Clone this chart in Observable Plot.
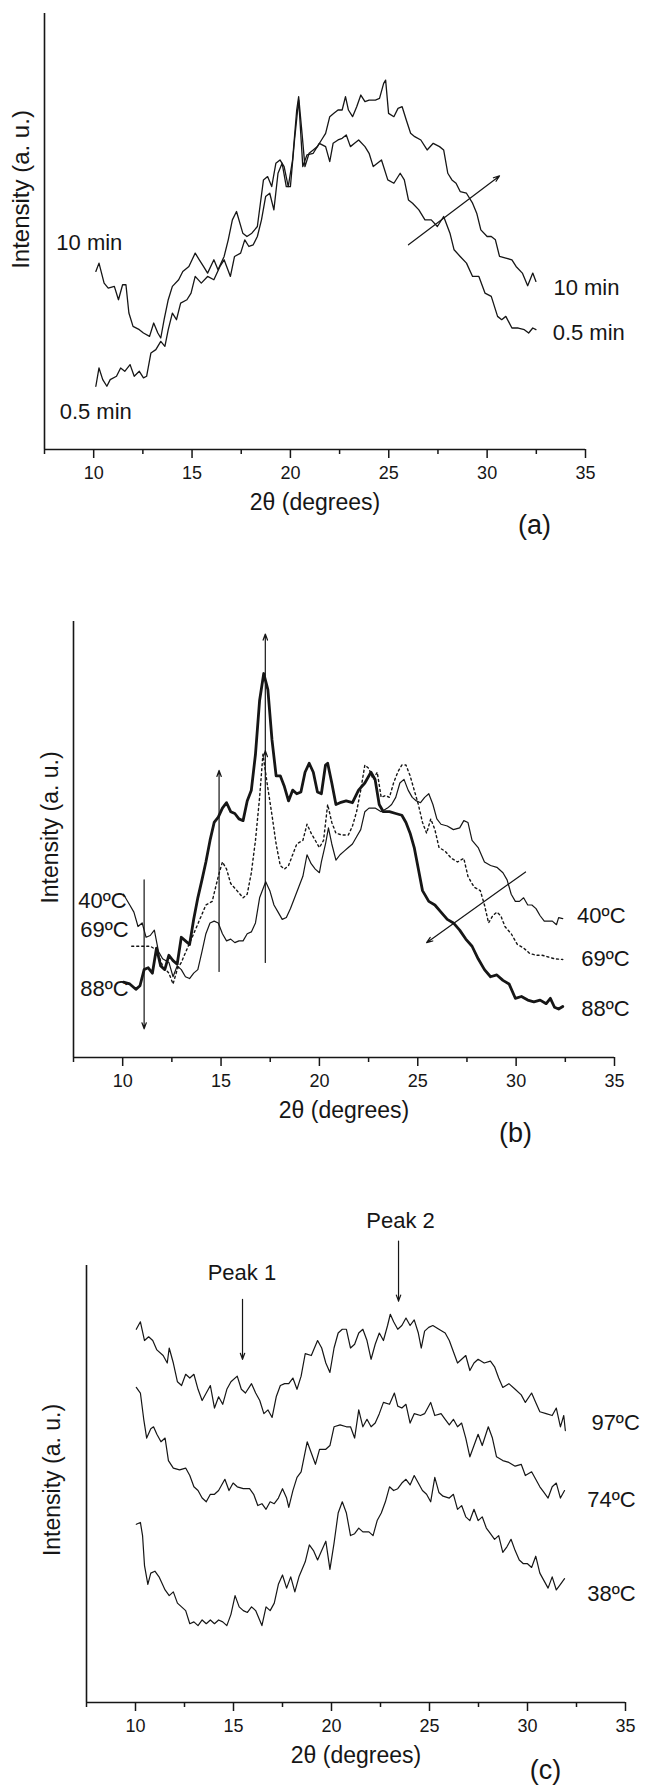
<!DOCTYPE html>
<html><head><meta charset="utf-8">
<script src="https://cdn.jsdelivr.net/npm/d3@7"></script>
<script src="https://cdn.jsdelivr.net/npm/@observablehq/plot@0.6"></script>
<style>
body{margin:0;background:#fff;}
#chart{width:647px;}
#chart svg{display:block;overflow:visible;}
</style>
</head><body><div id="chart"></div>
<script>
// ---------- axis ticks ----------
const xMajorTicks = [10, 15, 20, 25, 30, 35];
const xMinorTicks = [7.5, 12.5, 17.5, 22.5, 27.5, 32.5];
const xTitle = "2θ (degrees)";
const yTitle = "Intensity (a. u.)";

// ---------- panel (a) ----------
const a10_x = [10.11,10.27,10.53,10.74,11.05,11.26,11.47,11.64,11.79,12.00,12.32,12.53,12.84,13.05,13.26,13.41,13.58,13.79,14.00,14.32,14.53,14.84,15.16,15.37,15.58,15.79,16.11,16.32,16.63,16.84,17.05,17.26,17.58,17.79,18.04,18.32,18.63,18.84,19.05,19.26,19.47,19.68,19.89,20.11,20.32,20.42,20.59,20.74,20.95,21.16,21.37,21.58,21.79,22.00,22.21,22.42,22.63,22.80,22.95,23.16,23.37,23.58,23.79,24.00,24.32,24.53,24.74,24.84,24.99,25.26,25.47,25.68,25.89,26.11,26.32,26.63,26.95,27.26,27.58,27.79,28.00,28.21,28.42,28.63,28.95,29.26,29.47,29.68,30.00,30.21,30.42,30.63,30.95,31.26,31.47,31.79,32.06,32.32,32.48];
const a10_y = [53.5,56,50,48.5,49,45,49.5,49.5,41,37,36,35,34,38,35,33.5,39,45,49,51,53.5,55,59,57,55,53,57,54,58,63,69,71.5,65,64,65,67,81,82,79,86,87,85,79,87,102,106,95,85,89,90,91,93,95,100,101,102,102,106,102,100,103,106.5,104.5,105,105,105.5,110,111,101,100,102.5,103,99,95,94,93,90,92,91,90,83,81,80,77.5,77,74,71,66,64,64,63,58,57.5,57,55,53,49.2,53,50.5];
const a05_x = [10.11,10.27,10.46,10.67,10.84,11.16,11.37,11.58,11.85,12.06,12.32,12.53,12.69,12.91,13.16,13.41,13.62,13.79,14.00,14.21,14.42,14.74,14.95,15.16,15.47,15.79,16.11,16.42,16.63,16.95,17.16,17.47,17.68,17.89,18.11,18.32,18.53,18.74,18.95,19.16,19.37,19.58,19.79,20.00,20.21,20.42,20.63,20.84,21.16,21.47,21.79,22.00,22.17,22.42,22.63,22.84,23.05,23.26,23.47,23.79,24.00,24.21,24.42,24.63,24.95,25.26,25.58,25.79,26.00,26.21,26.53,26.84,27.16,27.47,27.79,28.11,28.32,28.63,28.95,29.26,29.58,29.89,30.21,30.53,30.74,30.95,31.26,31.58,31.89,32.11,32.32,32.48];
const a05_y = [19,24.5,21,19,21,22,24.5,23.5,25.5,22,23.5,21.5,22,29,30,32.5,31,36,41,39,44,45,47,52,50,52,51,55,57,52,58,59,63,61,61.5,64,69,76,77,72,83,86,79,79,93,105,85,88.5,89,92,91,86.5,92,93,93.5,94.5,91,92,93,91,89,85,86,87,81,80,83,81,75,74,72,69,69,67,70,65,60,58,56,52,52,47,46,40,39,40,36.5,36.5,36,35,36.5,36];
const aLabels = [
  {text: "10 min", x: 8.1, y: 62.2},
  {text: "0.5 min", x: 8.27, y: 11.2},
  {text: "10 min", x: 33.37, y: 48.5},
  {text: "0.5 min", x: 33.33, y: 35}
];
const aArrows = [{x1: 26.0, y1: 61.5, x2: 30.63, y2: 82.2}];

// ---------- panel (b) ----------
const b88_x = [10.04,10.36,10.67,10.88,11.09,11.30,11.51,11.72,11.93,12.14,12.35,12.56,12.77,12.98,13.19,13.40,13.61,13.82,14.03,14.23,14.44,14.65,14.86,15.07,15.28,15.49,15.70,15.91,16.12,16.33,16.54,16.75,16.96,17.17,17.38,17.59,17.80,18.01,18.22,18.43,18.64,18.85,19.06,19.27,19.48,19.69,19.90,20.10,20.31,20.42,20.63,20.84,21.05,21.36,21.68,21.99,22.31,22.62,22.83,23.04,23.25,23.56,23.88,24.19,24.40,24.61,24.82,25.03,25.24,25.56,25.87,26.18,26.50,26.81,27.13,27.44,27.76,28.07,28.39,28.70,29.02,29.33,29.64,29.96,30.27,30.59,30.90,31.22,31.53,31.74,31.95,32.16,32.37];
const b88_y = [21,20.5,19,20,24.5,25,23.5,30.5,25.5,24.5,28.5,27,26,33.5,32.5,31.5,38.5,44.5,49.5,54.5,60.5,65.5,67,69.5,71,68.5,68,66.5,66,71.5,74.5,84.5,99.5,107,102.5,88.5,78.5,78.5,75.5,71.5,74.5,73.5,74,79.5,82,79.5,74,73.5,81.5,82,76.5,70.5,71,71.5,71,74.5,76.5,79.5,77.5,70.5,68.5,68.5,68,67.5,65.5,62.5,58.5,52.5,46.5,43.5,42.5,40.5,38.5,37.5,35.5,33,31,27.5,24.5,22.5,23,21.5,20.5,16.5,17,16,15.5,16,15,16.5,14,13.5,14.2];
const b40_x = [10.04,10.36,10.57,10.78,10.99,11.19,11.40,11.61,11.82,12.03,12.35,12.56,12.77,12.98,13.19,13.40,13.61,13.82,14.03,14.23,14.44,14.65,14.86,15.07,15.28,15.49,15.70,15.91,16.12,16.33,16.54,16.75,16.96,17.27,17.48,17.69,17.90,18.11,18.32,18.53,18.74,18.95,19.16,19.37,19.58,19.79,20.00,20.10,20.31,20.46,20.63,20.84,21.05,21.26,21.47,21.68,21.89,22.10,22.31,22.52,22.83,23.14,23.46,23.67,23.88,24.09,24.30,24.51,24.72,24.93,25.14,25.35,25.56,25.77,25.97,26.18,26.50,26.81,27.13,27.34,27.55,27.76,28.07,28.39,28.70,29.02,29.33,29.54,29.75,29.96,30.17,30.38,30.59,30.80,31.01,31.22,31.43,31.64,31.84,32.05,32.16,32.37];
const b40_y = [45.5,42.5,40.5,36.5,37.5,33.5,34,35.5,29.5,27.5,26.5,22.5,25.5,24.5,22.5,22,23.5,24.5,29.5,34.5,37.5,38,37.5,34.5,32.5,33,32,32.5,32.5,34.5,35,37.5,44.5,49,46.5,42.5,40.5,38.5,39,41.5,44.5,47.5,50.5,56.5,54,52.5,51.5,54.5,59.5,64,59.5,55,56.5,57.5,58.5,59.5,61.5,63.5,68.5,69.5,69.5,68.5,69.5,70.5,72.5,76.5,77.5,74.5,72.5,71.5,71,72.5,73.5,70.5,66.5,65,64.5,63.5,64,66,65.5,60.5,58.5,54.5,53.5,53,51.5,49.5,45.5,43.5,43.5,44.5,42.5,42.5,41.5,39.5,38,38,38,37,39,38.7];
const b69_x = [10.46,10.78,11.09,11.40,11.72,12.03,12.35,12.56,12.77,12.98,13.29,13.61,13.92,14.23,14.55,14.86,15.07,15.28,15.49,15.81,16.12,16.33,16.54,16.75,16.96,17.13,17.34,17.59,17.80,18.01,18.22,18.43,18.64,18.85,19.16,19.37,19.58,19.79,20.00,20.21,20.42,20.63,20.84,21.15,21.47,21.68,21.89,22.10,22.31,22.52,22.73,22.94,23.14,23.35,23.56,23.77,23.98,24.19,24.40,24.61,24.82,25.03,25.24,25.45,25.66,25.87,26.08,26.39,26.71,27.02,27.34,27.55,27.86,28.18,28.39,28.60,28.81,29.02,29.22,29.43,29.75,30.06,30.38,30.69,31.01,31.32,31.64,31.95,32.37];
const b69_y = [31,31,31,31,30,25.5,23.5,20.5,24.5,26.5,30.5,34.5,38.5,42.5,43.5,50.5,54.5,52.5,48.5,46.5,44.5,45.5,51.5,60.5,72.5,84.5,76.5,67.5,59.5,53.5,52.5,53.5,56.5,59.5,60.5,65,62.5,60.5,58.5,60.5,70.5,65.5,62.5,62,62,64.5,68.5,74.5,81.5,80.5,77.5,79.5,72.5,73,72.5,76.5,79.5,81.5,81.5,78.5,74.5,70.5,65.5,62.5,66.5,63.5,58.5,57.5,55.5,54.5,55.5,50.5,47.5,46.5,42.5,37.5,39.5,40.5,39.5,36.5,34.5,31.5,30.5,29,28.5,28.5,28,27.5,27.3];
const bLabels = [
  {text: "40ºC", x: 7.74, y: 43.5},
  {text: "69ºC", x: 7.84, y: 35.5},
  {text: "88ºC", x: 7.84, y: 19},
  {text: "40ºC", x: 33.1, y: 39.5},
  {text: "69ºC", x: 33.31, y: 27.5},
  {text: "88ºC", x: 33.31, y: 13.5}
];
const bArrows = [
  {x1: 11.09, y1: 49.5, x2: 11.09, y2: 8},
  {x1: 14.9, y1: 24, x2: 14.9, y2: 80},
  {x1: 17.25, y1: 26.5, x2: 17.25, y2: 85.5},
  {x1: 17.25, y1: 85.5, x2: 17.25, y2: 118},
  {x1: 30.48, y1: 51.7, x2: 25.45, y2: 32}
];

// ---------- panel (c) ----------
const c97_x = [10.04,10.25,10.46,10.67,10.88,11.09,11.41,11.62,11.72,11.93,12.14,12.35,12.56,12.77,12.98,13.19,13.40,13.61,13.82,14.03,14.24,14.45,14.66,14.87,15.19,15.40,15.61,15.92,16.13,16.34,16.55,16.76,16.97,17.18,17.39,17.61,17.82,18.03,18.24,18.45,18.66,18.97,19.29,19.50,19.71,19.92,20.13,20.34,20.55,20.76,20.97,21.18,21.39,21.60,21.81,22.02,22.23,22.44,22.65,22.86,23.00,23.17,23.38,23.59,23.80,24.01,24.22,24.43,24.58,24.75,24.96,25.17,25.48,25.80,26.01,26.22,26.43,26.64,26.85,27.06,27.27,27.48,27.79,28.11,28.32,28.53,28.74,29.05,29.37,29.68,29.89,30.21,30.42,30.63,30.95,31.26,31.47,31.68,31.85,31.93];
const c97_y = [99.5,101.5,96.5,97.5,96.5,94,92.5,90.5,94.5,90.5,85.5,84.5,87.5,86.5,87.5,83.5,80.5,82.5,84.5,78.5,81.5,79.5,83.5,85.5,87,83.5,82.5,85,82.5,80.5,77,78,76,81.5,84.5,85,85,86.5,83.5,87,93,92.5,96.5,94.5,90.5,88,94.5,98.5,99.5,99.5,94.5,95.5,98.5,99.5,96.5,91.5,95.5,98.5,96.5,100.5,103.5,101.5,99.5,100.5,102.5,100.5,102,98.5,94.5,99,100,100.5,99.5,98.5,96.5,93.5,90.5,91.5,92.5,88.5,90.5,91.5,90.5,91,89.5,86.5,84,85,83.5,82,80,82.5,80,77.5,77,76.5,78.5,73.5,76.5,72.5];
const c74_x = [10.04,10.25,10.42,10.57,10.78,10.92,11.09,11.30,11.51,11.68,11.93,12.25,12.56,12.77,12.98,13.19,13.40,13.61,13.82,14.03,14.24,14.56,14.77,14.98,15.19,15.50,15.82,16.03,16.24,16.45,16.66,16.87,17.08,17.29,17.50,17.71,17.82,18.03,18.24,18.45,18.76,18.97,19.18,19.39,19.71,19.92,20.13,20.44,20.76,20.97,21.18,21.39,21.60,21.81,22.02,22.23,22.44,22.65,22.96,23.21,23.38,23.59,23.80,24.01,24.22,24.54,24.75,25.06,25.27,25.59,25.80,26.01,26.22,26.43,26.64,26.85,27.06,27.27,27.48,27.69,28.00,28.21,28.42,28.74,29.05,29.37,29.68,29.89,30.21,30.42,30.63,30.84,31.05,31.26,31.47,31.68,31.89];
const c74_y = [84,82.5,75.5,70.5,73,73.5,71.5,69.5,70.5,64.5,62.5,62,62.5,60.5,57.5,56.5,54.5,53.5,55.5,55.5,56.5,59.5,56.5,58.5,57.5,57,57,55.5,52.5,53,51.5,53.5,53,54.5,57,54.5,52,56.5,60,61.5,69.5,66.5,63.5,67.5,67.5,68.5,73.5,74,73.5,73.5,70.5,78,73.5,75.5,73.5,74.5,77,80,79.5,82.5,79,78.5,79.5,74.5,77,76.5,77,80,76.5,77,75.5,74,75.5,73.5,74.5,70.5,65.5,68.5,71.5,68.5,73.5,70.5,65.5,64.5,64,63,63.5,60.5,61.5,59.5,57.5,56,54.5,57.5,58.5,54.5,56.5];
const c38_x = [10.04,10.25,10.36,10.46,10.63,10.78,10.99,11.20,11.51,11.72,11.93,12.14,12.35,12.56,12.77,12.98,13.19,13.40,13.61,13.82,14.03,14.24,14.45,14.66,14.87,15.08,15.29,15.50,15.71,15.92,16.13,16.45,16.66,16.87,17.08,17.29,17.50,17.71,17.92,18.13,18.34,18.66,18.87,19.08,19.29,19.50,19.71,19.92,20.13,20.34,20.55,20.76,20.97,21.18,21.39,21.60,21.91,22.12,22.33,22.54,22.75,22.96,23.17,23.38,23.59,23.80,24.01,24.22,24.43,24.64,24.85,25.06,25.27,25.48,25.69,26.01,26.22,26.43,26.64,26.85,27.06,27.27,27.48,27.69,27.90,28.11,28.32,28.53,28.74,28.95,29.16,29.37,29.58,29.79,30.00,30.21,30.42,30.63,30.84,31.05,31.26,31.47,31.68,31.89];
const c38_y = [47.5,48,44.5,36.5,31.5,34.5,35,33.5,30,28.5,29.5,26.5,25.5,24.5,21,21.5,20.5,22,21,22,21,22,21.5,20.5,23.5,28.5,25.5,24.5,24,25.5,24.5,20.5,25.5,24.5,26.5,31.5,34,30.5,33.5,29.5,33.5,37.5,42,40.5,38,40.5,43,35.5,42.5,50.5,53.5,50.5,44.5,45,46.5,45.5,45.5,44.5,48.5,50.5,53.5,57.5,56.5,57,58.5,59.5,58,60.5,58.5,56.5,55.5,53.5,60,56,55,54.5,55.5,51.5,52.5,49.5,48.5,51.5,48.5,49.5,46.5,45,43.5,44.5,40,41.5,43.5,40.5,38,37,37,36,39,34.5,32.5,30.5,33.5,30,31.5,33];
const cLabels = [
  {text: "97ºC", x: 33.26, y: 74.5},
  {text: "74ºC", x: 33.05, y: 54},
  {text: "38ºC", x: 33.05, y: 29}
];
const cPeakLabels = [
  {text: "Peak 1", x: 15.43, y: 114.5},
  {text: "Peak 2", x: 23.52, y: 128.5}
];
const cArrows = [
  {x1: 15.46, y1: 107.5, x2: 15.46, y2: 91.5},
  {x1: 23.42, y1: 123, x2: 23.42, y2: 107}
];

// ---------- helpers ----------
const FONT = "'Liberation Sans', Arial, Helvetica, sans-serif";
const INK = "#161616";
const rows = (xs, ys) => xs.map((x, i) => ({x, y: ys[i]}));

function panel(o) {
  return Plot.plot({
    width: 647,
    height: o.height,
    marginTop: o.mt, marginBottom: o.mb, marginLeft: o.ml, marginRight: o.mr,
    x: {domain: [7.5, 35], label: null},
    y: {domain: [0, o.ymax], axis: null, label: null},
    style: {fontFamily: FONT, fontSize: "18px", color: INK, background: "white", overflow: "visible"},
    marks: [
      Plot.ruleX([7.5], {stroke: INK, strokeWidth: 1.6}),
      Plot.ruleY([0], {stroke: INK, strokeWidth: 1.6}),
      Plot.axisX(xMajorTicks, {tickSize: 9, tickPadding: 8, strokeWidth: 1.5, label: null, fontSize: 18}),
      Plot.axisX(xMinorTicks, {tickSize: 5, strokeWidth: 1.5, tickFormat: () => "", label: null}),
      ...o.marks,
      Plot.text([xTitle], {text: d => d, frameAnchor: "bottom", dy: 53, lineAnchor: "middle", fontSize: 23, fill: INK}),
      Plot.text([yTitle], {text: d => d, frameAnchor: "left", rotate: -90, dx: o.ydx, dy: o.ydy, textAnchor: "middle", lineAnchor: "middle", fontSize: o.yfs, fill: INK}),
      Plot.text([o.tag], {text: d => d, frameAnchor: "bottom-right", dx: o.tdx, dy: o.tdy, textAnchor: "middle", lineAnchor: "middle", fontSize: 27, fill: INK})
    ]
  });
}

const labelMark = (data) => Plot.text(data, {x: "x", y: "y", text: "text", textAnchor: "start", lineAnchor: "middle", fontSize: 22, fill: INK});
const arrowMark = (data) => Plot.arrow(data, {x1: "x1", y1: "y1", x2: "x2", y2: "y2", stroke: INK, strokeWidth: 1.2, headLength: 8, headAngle: 40});

const chart = document.getElementById("chart");

chart.append(panel({
  height: 560, mt: 13, mb: 111, ml: 44, mr: 62, ymax: 131,
  ydx: -23, ydy: -42, yfs: 24, tag: "(a)", tdx: -51, tdy: 76,
  marks: [
    Plot.line(rows(a10_x, a10_y), {x: "x", y: "y", stroke: INK, strokeWidth: 1.3}),
    Plot.line(rows(a05_x, a05_y), {x: "x", y: "y", stroke: INK, strokeWidth: 1.3}),
    arrowMark(aArrows),
    labelMark(aLabels)
  ]
}));

chart.append(panel({
  height: 620, mt: 61, mb: 123, ml: 73, mr: 33, ymax: 121.5,
  ydx: -23, ydy: -12, yfs: 23, tag: "(b)", tdx: -99, tdy: 76,
  marks: [
    Plot.line(rows(b40_x, b40_y), {x: "x", y: "y", stroke: INK, strokeWidth: 1.2}),
    Plot.line(rows(b69_x, b69_y), {x: "x", y: "y", stroke: INK, strokeWidth: 1.4, strokeDasharray: "2,3"}),
    Plot.line(rows(b88_x, b88_y), {x: "x", y: "y", stroke: INK, strokeWidth: 2.8}),
    arrowMark(bArrows),
    labelMark(bLabels)
  ]
}));

chart.append(panel({
  height: 606, mt: 85, mb: 84, ml: 86, mr: 22, ymax: 116.5,
  ydx: -34, ydy: -4, yfs: 23, tag: "(c)", tdx: -80, tdy: 68,
  marks: [
    Plot.line(rows(c97_x, c97_y), {x: "x", y: "y", stroke: INK, strokeWidth: 1.2}),
    Plot.line(rows(c74_x, c74_y), {x: "x", y: "y", stroke: INK, strokeWidth: 1.2}),
    Plot.line(rows(c38_x, c38_y), {x: "x", y: "y", stroke: INK, strokeWidth: 1.2}),
    arrowMark(cArrows),
    labelMark(cLabels),
    Plot.text(cPeakLabels, {x: "x", y: "y", text: "text", textAnchor: "middle", lineAnchor: "middle", fontSize: 22, fill: INK})
  ]
}));
</script>
</body></html>
